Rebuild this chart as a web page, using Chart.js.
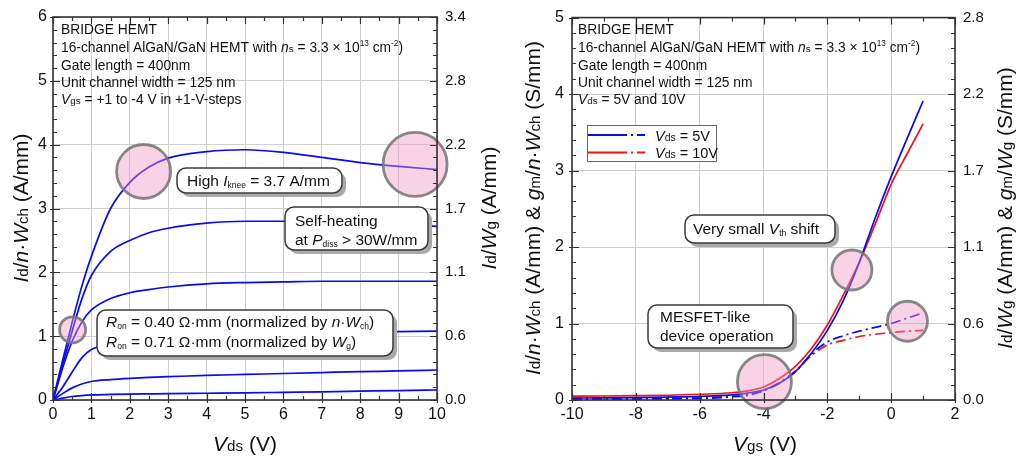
<!DOCTYPE html>
<html>
<head>
<meta charset="utf-8">
<script src="https://cdn.jsdelivr.net/npm/chart.js@4.4.1/dist/chart.umd.min.js"></script>
<style>
  html, body { margin: 0; padding: 0; background: #fff; }
  #wrap { display: flex; width: 1018px; height: 457px; }
  .cell { position: relative; width: 509px; height: 457px; }
</style>
</head>
<body>
<div id="wrap">
  <div class="cell"><canvas id="left"></canvas></div>
  <div class="cell"><canvas id="right"></canvas></div>
</div>
<script>
// output curves, Id/n·Wch (A/mm) vs Vds (V), Vgs = +1 ... -4 V
const vds = [0, 0.1, 0.25, 0.5, 0.75, 1, 1.5, 2, 2.5, 3, 4, 5, 6, 7, 8, 9, 10];
const idVgsP1 = [0, 0.25, 0.62, 1.22, 1.78, 2.25, 3.0, 3.41, 3.65, 3.79, 3.89, 3.92, 3.88, 3.8, 3.72, 3.66, 3.61];
const idVgs0 = [0, 0.22, 0.55, 1.08, 1.58, 1.95, 2.33, 2.5, 2.62, 2.69, 2.77, 2.8, 2.8, 2.79, 2.77, 2.75, 2.72];
const idVgsM1 = [0, 0.2, 0.5, 0.92, 1.22, 1.41, 1.59, 1.68, 1.73, 1.77, 1.82, 1.84, 1.85, 1.86, 1.86, 1.86, 1.86];
const idVgsM2 = [0, 0.08, 0.2, 0.44, 0.66, 0.79, 0.88, 0.93, 0.96, 0.98, 1.01, 1.03, 1.04, 1.05, 1.06, 1.07, 1.08];
const idVgsM3 = [0, 0.04, 0.1, 0.19, 0.25, 0.29, 0.32, 0.34, 0.355, 0.365, 0.385, 0.4, 0.415, 0.43, 0.445, 0.455, 0.47];
const idVgsM4 = [0, 0.01, 0.03, 0.055, 0.07, 0.08, 0.087, 0.092, 0.096, 0.1, 0.106, 0.112, 0.12, 0.128, 0.138, 0.148, 0.157];

// transfer curves vs Vgs (V)
const vgs = [-10, -9, -8, -7, -6, -5, -4.5, -4, -3.5, -3, -2.5, -2, -1.5, -1, -0.5, 0, 0.5, 1];
const id5 = [0.025, 0.028, 0.032, 0.038, 0.047, 0.068, 0.09, 0.13, 0.22, 0.37, 0.61, 0.91, 1.3, 1.8, 2.38, 2.92, 3.42, 3.91];
const id10 = [0.05, 0.052, 0.056, 0.062, 0.075, 0.095, 0.12, 0.17, 0.28, 0.44, 0.67, 0.98, 1.37, 1.8, 2.3, 2.82, 3.22, 3.61];
const gm5 = [0.01, 0.01, 0.012, 0.015, 0.02, 0.04, 0.06, 0.12, 0.22, 0.37, 0.6, 0.76, 0.84, 0.9, 0.95, 1.0, 1.07, 1.14];
const gm10 = [0.02, 0.02, 0.022, 0.025, 0.03, 0.05, 0.07, 0.13, 0.23, 0.38, 0.58, 0.72, 0.78, 0.83, 0.86, 0.88, 0.9, 0.91];

const seriesNames = ['{i:V}{s:ds} = 5V', '{i:V}{s:ds} = 10V'];
const leftY2Ticks = ['0.0', '0.6', '1.1', '1.7', '2.2', '2.8', '3.4'];
const rightY2Ticks = ['0.0', '0.6', '1.1', '1.7', '2.2', '2.8'];

const FONT = '"Liberation Sans", Arial, sans-serif';
const BLUE = '#0a0af0';
const RED = '#f01414';
const DASHDOT = [10, 4, 2, 4];

const pts = (xs, ys) => xs.map((x, i) => ({ x, y: ys[i] }));

// tiny markup: {i:..} italic, {s:..} small, {b:..} subscript, {p:..} superscript
function parseRich(str) {
  const out = [];
  const re = /\{(\w):([^}]*)\}|([^{]+)/g;
  let m;
  while ((m = re.exec(str))) {
    if (m[3]) out.push(['n', m[3]]);
    else out.push([m[1], m[2]]);
  }
  return out;
}

function runFont(st, size) {
  const it = st === 'i' ? 'italic ' : '';
  let s = size, dy = 0;
  if (st === 's') s = size * 0.72;
  if (st === 'b') { s = size * 0.55; dy = size * 0.15; }
  if (st === 'p') { s = size * 0.6; dy = -size * 0.4; }
  return { font: `${it}${s}px ${FONT}`, dy };
}

function richWidth(ctx, runs, size) {
  let w = 0;
  runs.forEach(([st, t]) => { ctx.font = runFont(st, size).font; w += ctx.measureText(t).width; });
  return w;
}

function drawRich(ctx, str, x, y, size, align) {
  const runs = parseRich(str);
  ctx.save();
  ctx.textBaseline = 'alphabetic';
  ctx.textAlign = 'left';
  ctx.fillStyle = '#111';
  let cx = align === 'center' ? x - richWidth(ctx, runs, size) / 2 : x;
  runs.forEach(([st, t]) => {
    const f = runFont(st, size);
    ctx.font = f.font;
    ctx.fillText(t, cx, y + f.dy);
    cx += ctx.measureText(t).width;
  });
  ctx.restore();
}

function roundRect(ctx, x, y, w, h, r) {
  ctx.beginPath();
  ctx.moveTo(x + r, y);
  ctx.arcTo(x + w, y, x + w, y + h, r);
  ctx.arcTo(x + w, y + h, x, y + h, r);
  ctx.arcTo(x, y + h, x, y, r);
  ctx.arcTo(x, y, x + w, y, r);
  ctx.closePath();
}

const infoLines = [
  'BRIDGE HEMT',
  '16-channel AlGaN/GaN HEMT with {i:n}{s:s} = 3.3 × 10{p:13} cm{p:-2})',
  'Gate length = 400nm',
  'Unit channel width = 125 nm'
];
const infoBase = [34, 52, 70, 87, 104];

const decorFor = {
  left: {
    ticks: { xMajor: 1, xMinor: 0.5, yMajor: 1, yMinor: 0.2 },
    info: { x: 61, lines: infoLines.concat(['{i:V}{s:gs} = +1 to -4 V in +1-V-steps']) },
    circles: [
      { x: 2.36, y: 3.58, r: 27 },
      { x: 9.43, y: 3.69, r: 32 },
      { x: 0.51, y: 1.10, r: 13 }
    ],
    boxes: [
      { x: 177, y: 168, w: 165, h: 25, tx: 187, lines: [[186, 'High {i:I}{b:knee} = 3.7 A/mm']] },
      { x: 285, y: 207, w: 143, h: 43, tx: 295, lines: [[226, 'Self-heating'], [245, 'at {i:P}{b:diss} > 30W/mm']] },
      { x: 97, y: 310, w: 296, h: 46, tx: 106, lines: [[327, '{i:R}{b:on} = 0.40 Ω·mm (normalized by {i:n}·{i:W}{b:ch})'], [347, '{i:R}{b:on} = 0.71 Ω·mm (normalized by {i:W}{b:g})']] }
    ],
    titles: [
      { str: '{i:V}{s:ds} (V)', x: 245, y: 451, rot: false },
      { str: '{i:I}{s:d}/{i:n}·{i:W}{s:ch} (A/mm)', x: 28, y: 208, rot: true },
      { str: '{i:I}{s:d}/{i:W}{s:g} (A/mm)', x: 496, y: 208, rot: true }
    ]
  },
  right: {
    ticks: { xMajor: 2, xMinor: 1, yMajor: 1, yMinor: 0.2 },
    info: { x: 69, lines: infoLines.concat(['{i:V}{s:ds} = 5V and 10V']) },
    circles: [
      { x: -3.97, y: 0.24, r: 27 },
      { x: -1.23, y: 1.70, r: 20 },
      { x: 0.51, y: 1.03, r: 20 }
    ],
    boxes: [
      { x: 176, y: 215, w: 150, h: 28, tx: 184, lines: [[234, 'Very small {i:V}{b:th} shift']] },
      { x: 139, y: 305, w: 145, h: 43, tx: 151, lines: [[322, 'MESFET-like'], [341, 'device operation']] }
    ],
    legend: { x: 78, y: 125, w: 129, h: 36, rows: [135, 152.5] },
    titles: [
      { str: '{i:V}{s:gs} (V)', x: 256, y: 451, rot: false },
      { str: '{i:I}{s:d}/{i:n}·{i:W}{s:ch} (A/mm) & {i:g}{s:m}/{i:n}·{i:W}{s:ch} (S/mm)', x: 31, y: 208, rot: true },
      { str: '{i:I}{s:d}/{i:W}{s:g} (A/mm) & {i:g}{s:m}/{i:W}{s:g} (S/mm)', x: 503, y: 208, rot: true }
    ]
  }
};

const decorPlugin = {
  id: 'decor',
  afterDatasetsDraw(chart) {
    const d = decorFor[chart.canvas.id];
    if (!d) return;
    const { ctx, chartArea: a, scales: { x, y } } = chart;

    // highlight circles
    d.circles.forEach(c => {
      ctx.save();
      ctx.beginPath();
      ctx.arc(x.getPixelForValue(c.x), y.getPixelForValue(c.y), c.r, 0, Math.PI * 2);
      ctx.fillStyle = 'rgba(238,150,195,0.42)';
      ctx.fill();
      ctx.lineWidth = 2.8;
      ctx.strokeStyle = 'rgba(115,115,115,0.85)';
      ctx.stroke();
      ctx.restore();
    });

    // callout boxes with shadow
    d.boxes.forEach(b => {
      ctx.save();
      roundRect(ctx, b.x + 4, b.y + 4, b.w, b.h, 9);
      ctx.fillStyle = '#a9a9a9';
      ctx.fill();
      roundRect(ctx, b.x, b.y, b.w, b.h, 9);
      ctx.fillStyle = '#fff';
      ctx.fill();
      ctx.lineWidth = 1.5;
      ctx.strokeStyle = '#3a3a3a';
      ctx.stroke();
      ctx.restore();
      b.lines.forEach(([by, s]) => drawRich(ctx, s, b.tx, by, 15.5));
    });

    // info text
    d.info.lines.forEach((s, i) => drawRich(ctx, s, d.info.x, infoBase[i], 13.8));

    // legend
    if (d.legend) {
      const L = d.legend;
      ctx.save();
      ctx.fillStyle = '#fff';
      ctx.fillRect(L.x, L.y, L.w, L.h);
      ctx.strokeStyle = '#666';
      ctx.lineWidth = 1;
      ctx.strokeRect(L.x + 0.5, L.y + 0.5, L.w, L.h);
      L.rows.forEach((ry, i) => {
        const col = chart.data.datasets[i].borderColor;
        ctx.strokeStyle = col;
        ctx.lineWidth = 1.8;
        ctx.beginPath();
        ctx.moveTo(L.x + 1, ry); ctx.lineTo(L.x + 40, ry);
        ctx.stroke();
        ctx.setLineDash([0, 4, 2, 4, 8, 50]);
        ctx.beginPath();
        ctx.moveTo(L.x + 40, ry); ctx.lineTo(L.x + 59, ry);
        ctx.stroke();
        ctx.setLineDash([]);
        drawRich(ctx, seriesNames[i], L.x + 68, ry + 5.5, 14.5);
      });
      ctx.restore();
    }

    // frame and inward ticks
    const t = d.ticks;
    ctx.save();
    ctx.strokeStyle = '#333';
    ctx.lineWidth = 1.2;
    ctx.beginPath();
    const nx = Math.round((x.max - x.min) / t.xMinor);
    for (let i = 0; i <= nx; i++) {
      const v = x.min + i * t.xMinor;
      const major = Math.abs(v / t.xMajor - Math.round(v / t.xMajor)) < 1e-6;
      const px = Math.round(x.getPixelForValue(v)) + 0.5;
      const len = major ? 7 : 4;
      ctx.moveTo(px, a.bottom + (major ? 3 : 0)); ctx.lineTo(px, a.bottom - len);
      ctx.moveTo(px, a.top); ctx.lineTo(px, a.top + len);
    }
    const ny = Math.round((y.max - y.min) / t.yMinor);
    for (let i = 0; i <= ny; i++) {
      const v = y.min + i * t.yMinor;
      const major = Math.abs(v / t.yMajor - Math.round(v / t.yMajor)) < 1e-6;
      const py = Math.round(y.getPixelForValue(v)) + 0.5;
      const len = major ? 7 : 4;
      ctx.moveTo(a.left - (major ? 3 : 0), py); ctx.lineTo(a.left + len, py);
      ctx.moveTo(a.right, py); ctx.lineTo(a.right - len, py);
    }
    ctx.stroke();
    ctx.lineWidth = 1.6;
    ctx.strokeRect(a.left, a.top, a.right - a.left, a.bottom - a.top);
    ctx.restore();

    // axis titles
    d.titles.forEach(tt => {
      if (!tt.rot) { drawRich(ctx, tt.str, tt.x, tt.y, 21, 'center'); return; }
      ctx.save();
      ctx.translate(tt.x, tt.y);
      ctx.rotate(-Math.PI / 2);
      drawRich(ctx, tt.str, 0, 0, 21, 'center');
      ctx.restore();
    });
  }
};
Chart.register(decorPlugin);

function makeOptions(o) {
  const tickFont = { family: FONT, size: 16 };
  return {
    responsive: true,
    maintainAspectRatio: false,
    animation: false,
    devicePixelRatio: 1,
    layout: { padding: { top: 16, left: 0, right: 0, bottom: 0 } },
    plugins: { legend: { display: false }, tooltip: { enabled: false } },
    elements: {
      point: { radius: 0 },
      line: { borderWidth: 1.7, cubicInterpolationMode: 'monotone' }
    },
    scales: {
      x: {
        type: 'linear', min: o.xMin, max: o.xMax,
        ticks: { stepSize: o.xStep, font: tickFont, color: '#111', padding: 5, maxRotation: 0, autoSkip: false },
        grid: { color: '#cfcfcf', lineWidth: 1, drawTicks: false },
        border: { display: false },
        afterFit: s => { s.height = 57; }
      },
      y: {
        type: 'linear', min: 0, max: o.yMax,
        ticks: { stepSize: 1, font: tickFont, color: '#111', padding: o.yPad },
        grid: { color: '#cfcfcf', lineWidth: 1, drawTicks: false },
        border: { display: false },
        afterFit: s => { s.width = o.leftW; }
      },
      y2: {
        type: 'linear', position: 'right', min: 0, max: o.yMax,
        ticks: { stepSize: 1, font: { family: FONT, size: 15 }, color: '#111', padding: 8,
          callback: v => o.y2Ticks[v] },
        grid: { display: false, drawTicks: false },
        border: { display: false },
        afterFit: s => { s.width = o.rightW; }
      }
    }
  };
}

new Chart(document.getElementById('left'), {
  type: 'line',
  data: {
    datasets: [idVgsP1, idVgs0, idVgsM1, idVgsM2, idVgsM3, idVgsM4].map(ys => ({
      data: pts(vds, ys), borderColor: BLUE, fill: false
    }))
  },
  options: makeOptions({ xMin: 0, xMax: 10, xStep: 1, yMax: 6, leftW: 53, rightW: 72, yPad: 6, y2Ticks: leftY2Ticks })
});

new Chart(document.getElementById('right'), {
  type: 'line',
  data: {
    datasets: [
      { data: pts(vgs, id5), borderColor: BLUE, fill: false },
      { data: pts(vgs, id10), borderColor: RED, fill: false },
      { data: pts(vgs, gm5), borderColor: BLUE, borderDash: DASHDOT, fill: false },
      { data: pts(vgs, gm10), borderColor: RED, borderDash: DASHDOT, fill: false }
    ]
  },
  options: makeOptions({ xMin: -10, xMax: 2, xStep: 2, yMax: 5, leftW: 63, rightW: 63, yPad: 8, y2Ticks: rightY2Ticks })
});
</script>
</body>
</html>
